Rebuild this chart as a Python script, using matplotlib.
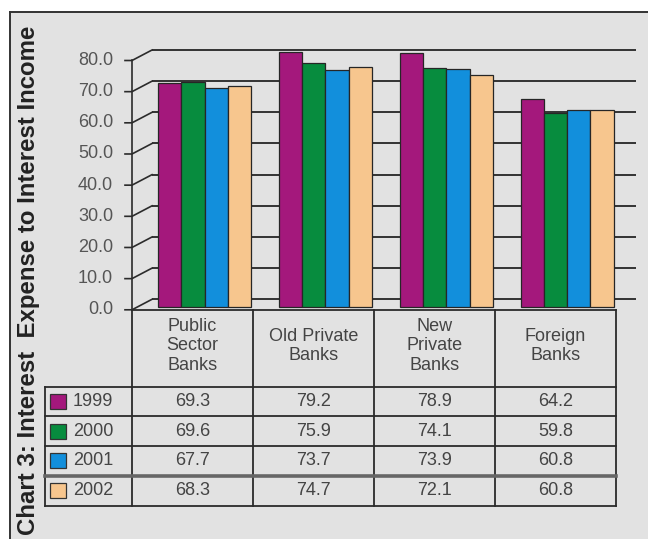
import matplotlib
matplotlib.use('Agg')
import matplotlib.pyplot as plt
from matplotlib.patches import Rectangle
from matplotlib.lines import Line2D

## data
banks = ['Public\nSector\nBanks', 'Old Private\nBanks', 'New\nPrivate\nBanks', 'Foreign\nBanks']
years = ['1999', '2000', '2001', '2002']
v1999 = [69.3, 79.2, 78.9, 64.2]
v2000 = [69.6, 75.9, 74.1, 59.8]
v2001 = [67.7, 73.7, 73.9, 60.8]
v2002 = [68.3, 74.7, 72.1, 60.8]
yticks = [0, 10, 20, 30, 40, 50, 60, 70, 80]

series = [v1999, v2000, v2001, v2002]
colors = ['#a4187c', '#078c3e', '#128fdc', '#f7c68e']

W, H = 648, 539
narrow = ['Liberation Sans Narrow', 'Liberation Sans', 'DejaVu Sans']
txt_col = '#444444'
line_col = '#2b2b2b'


def px_rect(x0, y0, x1, y1) :
    # pixel box (top-left origin) -> figure fraction rect
    return [x0 / W, 1 - y1 / H, (x1 - x0) / W, (y1 - y0) / H]


def plot() :
    fig = plt.figure(figsize=(W / 100, H / 100), dpi=100)
    fig.patch.set_facecolor('white')

    # gray panel with left/top border
    fig.add_artist(Rectangle((10 / W, 0), 1 - 10 / W, 1 - 12 / H, transform=fig.transFigure,
                             facecolor='#e2e2e2', edgecolor='none', zorder=0))
    fig.add_artist(Line2D([10 / W, 10 / W], [0, 1 - 12 / H], transform=fig.transFigure,
                          color='#333333', lw=1.4))
    fig.add_artist(Line2D([10 / W, 1], [1 - 12 / H, 1 - 12 / H], transform=fig.transFigure,
                          color='#333333', lw=1.4))

    fig.text(29 / W, 1 - 280 / H, 'Chart 3: Interest  Expense to Interest Income',
             rotation=90, ha='center', va='center', fontsize=17.3, fontweight='bold',
             family=['Liberation Sans', 'DejaVu Sans'], color='#222222')

    # back wall axes: value 0 at y=299, 80 at y=50
    ppu = (299.3 - 50) / 80.0
    ylo, yhi = -3.6, 82
    grp_c0, grp_step = 204.5, 120.9
    x_left, x_right = 152, 636
    xlo = (x_left - grp_c0) / grp_step
    xhi = (x_right - grp_c0) / grp_step
    ax = fig.add_axes(px_rect(x_left, 50 - (yhi - 80) * ppu, x_right, 299.3 - ylo * ppu))
    ax.set_xlim(xlo, xhi)
    ax.set_ylim(ylo, yhi)
    ax.axis('off')

    ax.hlines(yticks, xlo, xhi, color='#333333', lw=1.4, zorder=1)

    # bars stand on the floor, tops read against the back wall
    floor = (299.3 - 306.7) / ppu
    bw = 23.2 / grp_step
    for k, vals in enumerate(series) :
        xs = [i + (k - 1.5) * bw for i in range(len(banks))]
        ax.bar(xs, [v - floor for v in vals], bottom=floor, width=bw,
               color=colors[k], edgecolor='#262626', lw=0.9, zorder=3)

    # front value axis, offset from the back wall
    dx = -20 / grp_step
    dy = -10.5 / ppu
    fx = xlo + dx
    ax.plot([fx, fx], [yticks[0] + dy, yticks[-1] + dy], color=line_col, lw=1.2,
            clip_on=False, zorder=4)
    for t in yticks :
        ax.plot([fx - 7 / grp_step, fx, xlo], [t + dy, t + dy, t], color=line_col,
                lw=1.2, clip_on=False, zorder=4)
        ax.text(fx - 19 / grp_step, t + dy, '%.1f' % t, ha='right', va='center',
                fontsize=13, family=narrow, color='#555555')

    # data table under the chart
    tax = fig.add_axes(px_rect(40, 305, 620, 510))
    tax.set_xlim(40, 620)
    tax.set_ylim(510, 305)
    tax.axis('off')

    col_x = [132 + 121 * j for j in range(len(banks) + 1)]
    head_top, head_bot = 310, 386.7
    row_h = 29.7
    row_y = [head_bot + row_h * r for r in range(len(years) + 1)]
    lab_left = 45

    lk = dict(color=line_col, lw=1.3, zorder=2)
    tax.plot([col_x[0], col_x[-1]], [head_top, head_top], **lk)
    for j, x in enumerate(col_x) :
        tax.plot([x, x], [head_top, row_y[-1]], **lk)
    tax.plot([lab_left, lab_left], [head_bot, row_y[-1]], **lk)
    for r, y in enumerate(row_y) :
        if r == 3 :
            tax.plot([lab_left, col_x[-1]], [y, y], color='#666666', lw=2.6, zorder=2)
        else :
            tax.plot([lab_left, col_x[-1]], [y, y], **lk)

    for j, name in enumerate(banks) :
        tax.text((col_x[j] + col_x[j + 1]) / 2, 346, name, ha='center', va='center',
                 fontsize=13, family=narrow, color=txt_col, linespacing=1.2)

    for r, yr in enumerate(years) :
        yc = (row_y[r] + row_y[r + 1]) / 2
        tax.add_patch(Rectangle((50, yc - 7.5), 16, 15, facecolor=colors[r],
                                edgecolor='#333333', lw=0.9, zorder=3))
        tax.text(73, yc, yr, ha='left', va='center', fontsize=13, family=narrow,
                 color=txt_col)
        for j in range(len(banks)) :
            tax.text((col_x[j] + col_x[j + 1]) / 2, yc, '%.1f' % series[r][j],
                     ha='center', va='center', fontsize=13, family=narrow, color=txt_col)

    plt.savefig('out.png', dpi=100, facecolor=fig.get_facecolor())


if __name__ == '__main__' :
    plot()
